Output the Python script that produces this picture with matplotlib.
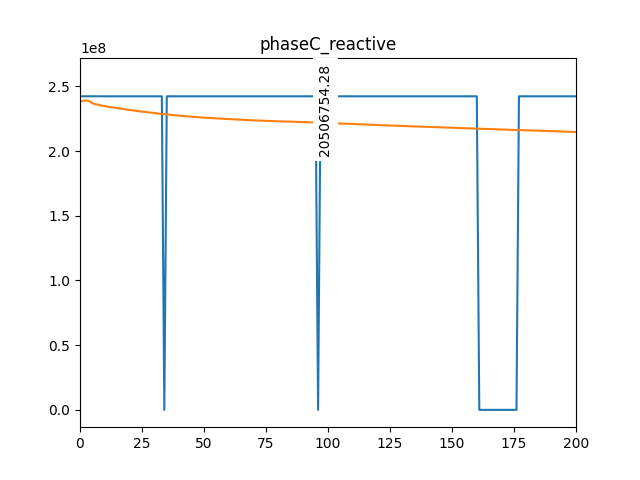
import matplotlib
matplotlib.use("Agg")
import matplotlib.pyplot as plt

# blue series: breakpoints
blue_x = [0, 33, 34, 35, 95, 96, 97, 160, 161, 176, 177, 200]
blue_y = [2.423e8, 2.423e8, 0.0, 2.423e8, 2.423e8, 0.0, 2.423e8, 2.423e8, 0.0, 0.0, 2.423e8, 2.423e8]

# orange series: slowly decaying curve
orange_x = [0, 1, 2, 3, 4, 5, 6, 8, 11, 15, 19, 24, 28, 32, 40, 50, 60, 70, 80, 93,
            106, 120, 135, 150, 160, 175, 190, 200]
orange_y = [2.380e8, 2.387e8, 2.390e8, 2.390e8, 2.383e8, 2.370e8, 2.363e8, 2.355e8,
            2.343e8, 2.332e8, 2.320e8, 2.307e8, 2.298e8, 2.289e8, 2.273e8, 2.258e8,
            2.247e8, 2.237e8, 2.230e8, 2.222e8, 2.212e8, 2.201e8, 2.190e8, 2.180e8,
            2.173e8, 2.163e8, 2.154e8, 2.147e8]

label_x = 96
label_y = 2.32e8
label_text = "20506754.28"

fig, ax = plt.subplots(figsize=(6.4, 4.8), dpi=100)
ax.plot(blue_x, blue_y)
ax.plot(orange_x, orange_y)
ax.text(label_x, label_y, label_text, rotation=90, ha="left", va="center",
        bbox=dict(facecolor="white", edgecolor="none"), clip_on=False, zorder=5)
ax.set_xlim(0, 200)
ax.set_ylim(-0.134e8, 2.722e8)
ax.set_title("phaseC_reactive")
fig.savefig("out.png")
